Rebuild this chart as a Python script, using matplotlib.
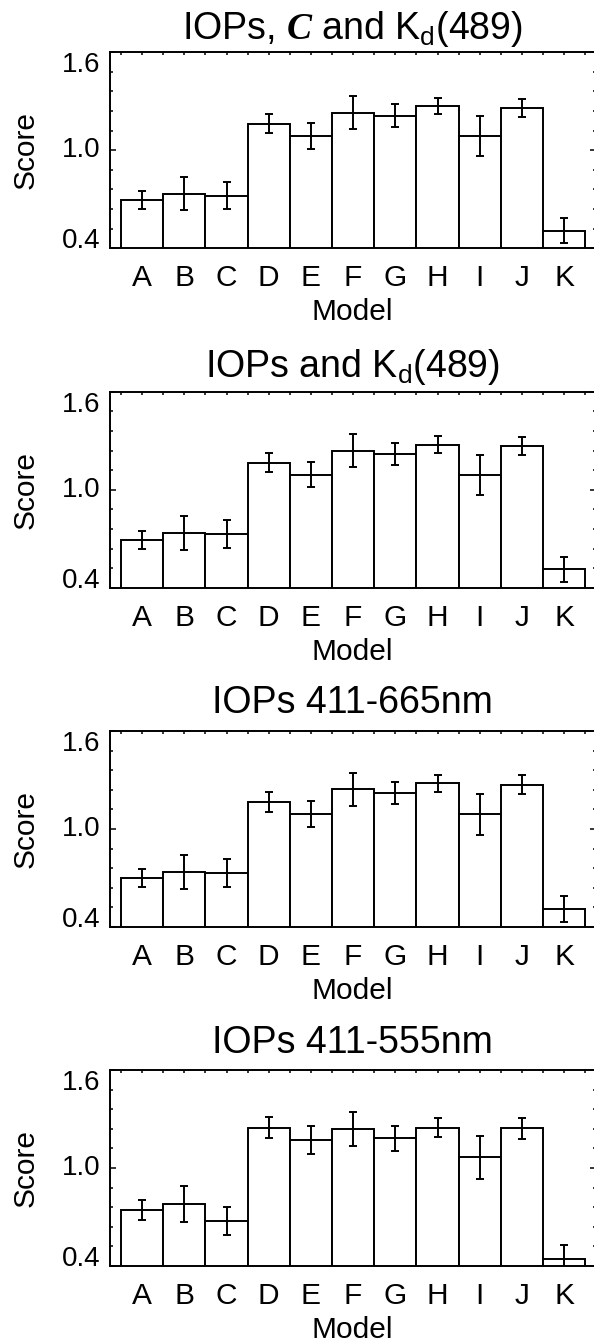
import matplotlib
matplotlib.use('Agg')
import matplotlib.pyplot as plt
from matplotlib.ticker import AutoMinorLocator
import numpy as np

plt.rcParams['font.family'] = ['Liberation Sans', 'DejaVu Sans']
plt.rcParams['mathtext.fontset'] = 'custom'
plt.rcParams['mathtext.rm'] = 'Liberation Sans'
plt.rcParams['mathtext.it'] = 'Liberation Serif:italic:bold'

models = ['A', 'B', 'C', 'D', 'E', 'F', 'G', 'H', 'I', 'J', 'K']

titles = [
    r'IOPs, $\mathit{C}$ and $\mathrm{K_d}$(489)',
    r'IOPs and $\mathrm{K_d}$(489)',
    'IOPs 411-665nm',
    'IOPs 411-555nm',
]

score_ckd = [0.696, 0.734, 0.722, 1.163, 1.088, 1.230, 1.212, 1.273, 1.088, 1.261, 0.508]
err_ckd = [0.056, 0.102, 0.083, 0.057, 0.077, 0.100, 0.069, 0.049, 0.122, 0.055, 0.075]

score_kd = [0.694, 0.737, 0.729, 1.165, 1.092, 1.237, 1.216, 1.276, 1.090, 1.267, 0.512]
err_kd = [0.056, 0.104, 0.083, 0.058, 0.078, 0.101, 0.067, 0.050, 0.124, 0.056, 0.076]

score_665 = [0.698, 0.739, 0.731, 1.165, 1.091, 1.242, 1.222, 1.279, 1.089, 1.271, 0.510]
err_665 = [0.055, 0.104, 0.085, 0.059, 0.078, 0.103, 0.067, 0.051, 0.126, 0.057, 0.078]

score_555 = [0.743, 0.780, 0.674, 1.246, 1.173, 1.240, 1.181, 1.246, 1.066, 1.242, 0.441]
err_555 = [0.063, 0.112, 0.087, 0.065, 0.086, 0.105, 0.076, 0.059, 0.132, 0.062, 0.085]

scores = [score_ckd, score_kd, score_665, score_555]
errors = [err_ckd, err_kd, err_665, err_555]

yticks = [0.4, 1.0, 1.6]

W, H = 594, 1343
fig = plt.figure(figsize=(W / 100, H / 100), dpi=100)

# panel geometry in pixels
left_px, right_px = 110, 595.5
panel_top_px = [52.3, 391.7, 731.0, 1070.0]
panel_h_px = 196
title_pad_px = [13.5, 15, 17.7, 16.7]

lw = 1.4
x = np.arange(len(models))

for i in range(4):
    top = panel_top_px[i]
    ax = fig.add_axes([left_px / W, 1 - (top + panel_h_px) / H,
                       (right_px - left_px) / W, panel_h_px / H])

    ax.bar(x, scores[i], width=1.0, facecolor='white', edgecolor='black',
           linewidth=lw, zorder=2)
    ax.errorbar(x, scores[i], yerr=errors[i], fmt='none', ecolor='black',
                elinewidth=lw, capsize=3.2, capthick=lw, zorder=3)

    ax.set_xlim(-0.76, 10.74)
    ax.set_ylim(0.4, 1.6)

    ax.set_xticks(x)
    ax.set_xticks(np.arange(-0.5, 11, 1.0), minor=True)
    ax.set_xticklabels(models)
    ax.set_yticks(yticks)
    ax.set_yticklabels(['%.1f' % v for v in yticks])
    ax.yaxis.set_minor_locator(AutoMinorLocator(5))

    ax.tick_params(axis='x', which='both', direction='in', top=True,
                   length=2.2, width=1.1, labelsize=21.5, pad=11.5)
    ax.tick_params(axis='y', which='major', direction='in', right=True,
                   length=4, width=1.1, labelsize=20, pad=7)
    ax.tick_params(axis='y', which='minor', direction='in', right=True,
                   length=2.2, width=1.1)

    for lbl, va in zip(ax.get_yticklabels(), ['baseline', 'center', 'top']):
        lbl.set_va(va)

    for sp in ax.spines.values():
        sp.set_linewidth(lw)
        sp.set_zorder(4)

    ax.set_title(titles[i], fontsize=27, pad=title_pad_px[i] * 0.72)
    ax.set_xlabel('Model', fontsize=21.5)
    ax.set_ylabel('Score', fontsize=21.5)
    ax.xaxis.set_label_coords(0.5, -50 / panel_h_px)
    ax.yaxis.set_label_coords((39.5 - left_px) / (right_px - left_px), 0.5)

fig.savefig('out.png', dpi=100)
